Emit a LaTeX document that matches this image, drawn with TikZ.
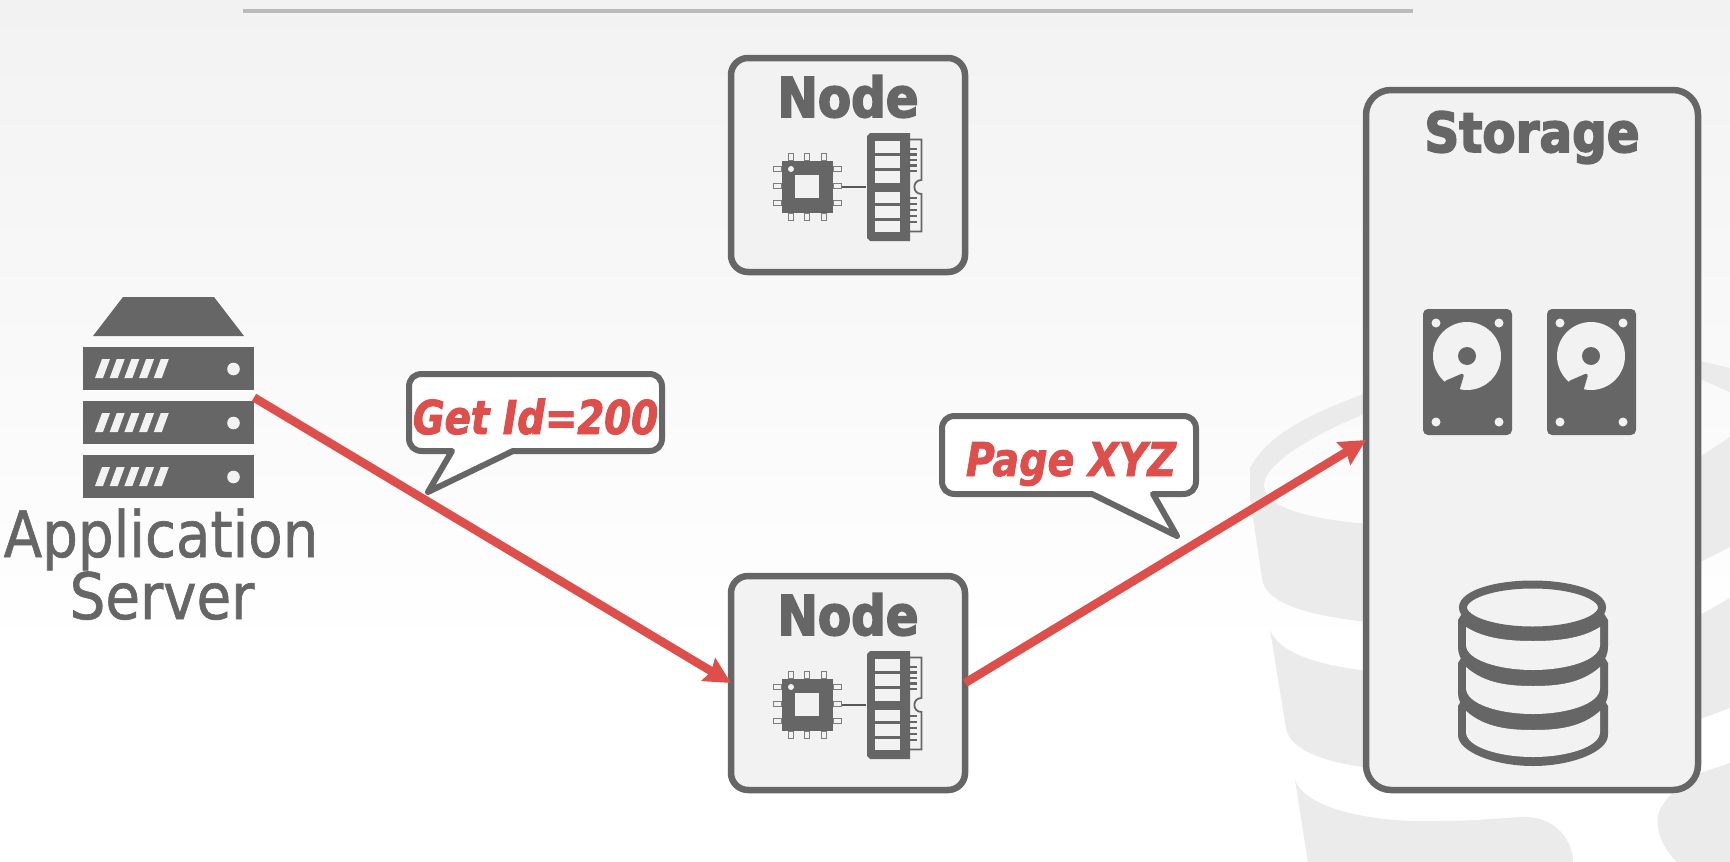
\documentclass[tikz,border=0pt]{standalone}
\usepackage{fontspec}
\usetikzlibrary{arrows.meta,shapes.geometric}
\setmainfont{DejaVu Sans}
\newfontfamily\headfont{DejaVu Sans}[FakeStretch=0.88,FakeBold=3]
\newfontfamily\labelfont{DejaVu Sans}[FakeStretch=0.88,FakeBold=1]
\newfontfamily\calloutA{DejaVu Sans}[FakeStretch=0.83,FakeBold=2]
\newfontfamily\calloutB{DejaVu Sans}[FakeStretch=0.85,FakeBold=1.5]
\definecolor{ink}{HTML}{666666}
\definecolor{panel}{HTML}{F2F2F2}
\definecolor{logo}{HTML}{EBEBEB}
\definecolor{redline}{HTML}{DE4E4B}
\tikzset{
  box/.style={draw=ink,fill=panel,line width=6.5pt,rounded corners=17pt,inner sep=0pt,outer sep=0pt},
  heading/.style={anchor=base,text=ink,inner sep=0pt,font=\headfont\bfseries\fontsize{55}{55}\selectfont},
  applabel/.style={anchor=base,text=ink,inner sep=0pt,font=\labelfont\fontsize{64}{64}\selectfont},
  bubble/.style={draw=ink,fill=white,line width=6pt,line join=round},
  bubbletext/.style={anchor=base,text=redline,inner sep=0pt},
  flow/.style={draw=redline,line width=8.5pt,-{Stealth[length=26pt,width=26pt,inset=3pt]}},
  pin/.style={draw=ink!85,fill=panel,line width=1.8pt},
  nodehw/.pic={
    % cpu
    \foreach \p in {791,807,824}{
      \path[pin] (\p-2.5,153.5) rectangle (\p+2.5,161);
      \path[pin] (\p-2.5,213) rectangle (\p+2.5,220.5);}
    \foreach \p in {169,186,203}{
      \path[pin] (773.5,\p-2.5) rectangle (782,\p+2.5);
      \path[pin] (833,\p-2.5) rectangle (841.5,\p+2.5);}
    \fill[ink] (782,161) rectangle (833,213);
    \fill[panel] (795,175) rectangle (819,198);
    \fill[panel] (791,169) circle (3);
    \draw[ink!85!black,line width=2.2pt] (842,187) -- (866,187);
    % ram
    \draw[ink,line width=1.8pt] (910,139.5) -- (921.5,139.5) -- (921.5,180) .. controls (912,180) and (912,194) .. (921.5,194) -- (921.5,231.5) -- (910,231.5);
    \foreach \p in {149,154.5,160,165.5,171,198,204,210,216,222}{
      \draw[ink,line width=2.6pt] (910,\p) -- (917,\p);}
    \fill[ink] (870,133) -- (910,133) -- (910,241) -- (870,241) -- (867,238) -- (867,136) -- cycle;
    \fill[panel] (875,141) rectangle (900,153);
    \fill[panel] (875,156) rectangle (900,168);
    \fill[panel] (875,171) rectangle (900,183);
    \fill[panel] (875,192) rectangle (900,203);
    \fill[panel] (875,206) rectangle (900,218);
    \fill[panel] (875,221) rectangle (900,232);
  },
  hdd/.pic={
    \fill[ink,rounded corners=5pt] (1423,309) rectangle (1512,435);
    \fill[panel] (1436,323) circle (4.5) (1499,323) circle (4.5) (1436,422) circle (4.5) (1499,422) circle (4.5);
    \fill[panel] (1467,356) circle (34);
    \fill[ink] (1467,356) circle (9);
    \filldraw[ink,line width=3.5pt,line join=round] (1447,382) -- (1462,375.5) -- (1458,389) -- (1459,396) -- (1438,396) -- cycle;
  }
}
\begin{document}
\begin{tikzpicture}[x=1pt,y=-1pt]
\useasboundingbox (0,0) rectangle (1730,862);
\clip (0,0) rectangle (1730,862);
% background
\fill[white] (0,0) rectangle (1730,862);
\shade[top color=panel,bottom color=white] (0,0) rectangle (1730,650);
% logo
\fill[logo] (1250,468) .. controls (1268,434) and (1310,413) .. (1380,388) -- (1380,408) .. controls (1320,430) and (1264,463) .. (1264,485) .. controls (1264,508) and (1310,520) .. (1380,525) -- (1380,623) .. controls (1320,618) and (1264,606) .. (1262,578) -- (1250,498) -- cycle;
\fill[logo] (1270,630) .. controls (1280,656) and (1330,668) .. (1380,672) -- (1380,769) .. controls (1330,764) and (1290,752) .. (1286,728) -- cycle;
\fill[logo] (1295,780) .. controls (1305,808) and (1370,823) .. (1437,821) .. controls (1480,821) and (1510,817) .. (1525,817) .. controls (1555,817) and (1573,840) .. (1573,862) -- (1308,862) -- cycle;
\fill[logo] (1680,355) -- (1700,361) -- (1730,368) -- (1730,392) -- (1700,379) -- (1680,373) -- cycle;
\fill[logo] (1680,465) -- (1700,457) -- (1730,437) -- (1730,547) -- (1700,562) -- (1680,570) -- cycle;
\fill[logo] (1680,622) -- (1700,615) -- (1730,598) -- (1730,708) -- (1700,719) -- (1680,727) -- cycle;
\fill[logo] (1730,763) -- (1700,773) -- (1673,793) .. controls (1660,805) and (1656,815) .. (1658,827) .. controls (1660,842) and (1668,853) .. (1677,862) -- (1730,862) -- cycle;
% top rule
\draw[color=black!27,line width=4pt] (243,10.5) -- (1413,10.5);
% server
\node[inner sep=0pt,outer sep=0pt,minimum width=171pt,minimum height=201pt] (srv) at (168.5,397.5) {};
\fill[ink] (123,297) -- (214,297) -- (244,336) -- (93,336) -- cycle;
\foreach \t in {347,401,455}{
  \fill[ink] (83,\t) rectangle (254,\t+43);
  \foreach \k in {0,1,2,3,4}{
    \fill[panel] (95+14.7*\k,\t+31) -- (102+14.7*\k,\t+12) -- (110+14.7*\k,\t+12) -- (103+14.7*\k,\t+31) -- cycle;}
  \fill[panel] (233.5,\t+22) circle (6.3);
}
\node[applabel] (app1) at (161,557) {Application};
\node[applabel] (app2) at (162,619) {Server};
% node boxes
\node[box,minimum width=234pt,minimum height=214pt] (n1) at (848,165) {};
\node[heading] (n1t) at (848,117) {Node};
\pic (hw1) at (0,0) {nodehw};
\node[box,minimum width=234pt,minimum height=214pt] (n2) at (848,683) {};
\node[heading] (n2t) at (848,635) {Node};
\pic (hw2) at (0,518) {nodehw};
% storage
\node[box,rounded corners=25pt,minimum width=332pt,minimum height=700pt] (st) at (1532,440) {};
\node[heading] (stt) at (1532,152) {Storage};
\pic (d1) at (0,0) {hdd};
\pic (d2) at (124,0) {hdd};
% database
\foreach \T/\B/\C in {698/735/766,655/693/730,612/647/686}{
  \fill[ink] (1463,\T) -- (1458,\T+8) -- (1458,\B) .. controls (1458,\C-14) and (1495,\C) .. (1533,\C) .. controls (1571,\C) and (1608,\C-14) .. (1608,\B) -- (1608,\T+8) -- (1603,\T) -- cycle;
}
\foreach \a/\h/\b/\d in {627/641/645/670,667/686/688/714,711/730/732/757}{
  \fill[panel] (1466,\a) .. controls (1485,\h-2) and (1510,\h) .. (1533,\h) .. controls (1556,\h) and (1581,\h-2) .. (1600,\a) -- (1600,\b) .. controls (1600,\d-10) and (1567,\d) .. (1533,\d) .. controls (1499,\d) and (1466,\d-10) .. (1466,\b) -- cycle;
}
\draw[ink,fill=panel,line width=8pt] (1532.5,607.5) ellipse (69.5 and 23);
% connectors
\draw[flow] (srv.east) -- (n2.west);
\draw[flow] (n2.east) -- (st.west);
% callouts
\draw[bubble] (409,387) .. controls (409,379) and (414,374) .. (422,374) -- (649,374) .. controls (657,374) and (662,379) .. (662,387) -- (662,438) .. controls (662,446) and (657,451) .. (649,451) -- (513,451) -- (428,492) -- (452,451) -- (422,451) .. controls (414,451) and (409,446) .. (409,438) -- cycle;
\node[bubbletext,font=\calloutA\bfseries\itshape\fontsize{46.6}{46.6}\selectfont] (c1) at (535.5,434) {Get Id=200};
\draw[bubble] (942,429) .. controls (942,421) and (947,416) .. (955,416) -- (1183,416) .. controls (1191,416) and (1196,421) .. (1196,429) -- (1196,481) .. controls (1196,489) and (1191,494) .. (1183,494) -- (1153,494) -- (1177,536) -- (1092,494) -- (955,494) .. controls (947,494) and (942,489) .. (942,481) -- cycle;
\node[bubbletext,font=\calloutB\bfseries\itshape\fontsize{46.6}{46.6}\selectfont] (c2) at (1071,476) {Page XYZ};
\end{tikzpicture}
\end{document}
